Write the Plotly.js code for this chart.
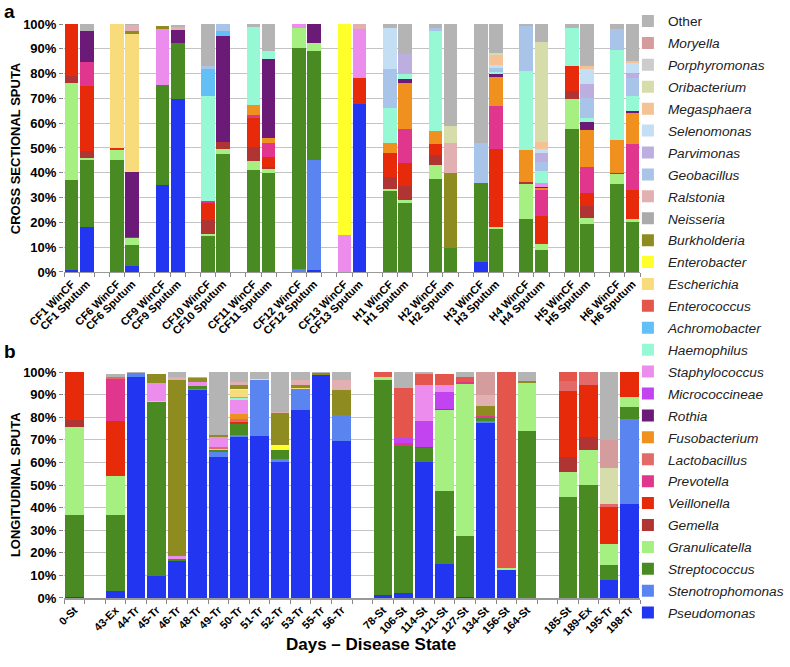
<!DOCTYPE html>
<html>
<head>
<meta charset="utf-8">
<script src="https://cdn.plot.ly/plotly-3.0.1.min.js"></script>
<style>
html,body{margin:0;padding:0;background:#fff;}
#chart{width:790px;height:667px;}
</style>
</head>
<body>
<div id="chart"></div>
<script>
// ---------- categories ("" marks an empty slot between groups) ----------
const categoriesA = ["CF1 WinCF","CF1 Sputum","","CF6 WinCF","CF6 Sputum","","CF9 WinCF","CF9 Sputum","",
  "CF10 WinCF","CF10 Sputum","","CF11 WinCF","CF11 Sputum","","CF12 WinCF","CF12 Sputum","",
  "CF13 WinCF","CF13 Sputum","","H1 WinCF","H1 Sputum","","H2 WinCF","H2 Sputum","",
  "H3 WinCF","H3 Sputum","","H4 WinCF","H4 Sputum","","H5 WinCF","H5 Sputum","","H6 WinCF","H6 Sputum"];
const categoriesB = ["0-St","","43-Ex","44-Tr","45-Tr","46-Tr","48-Tr","49-Tr","50-Tr","51-Tr","52-Tr","53-Tr","55-Tr","56-Tr","",
  "78-St","106-St","114-St","121-St","127-St","134-St","156-St","164-St","",
  "185-St","189-Ex","195-Tr","198-Tr"];

// ---------- taxa (stack order bottom -> top) ----------
const taxa = ["Pseudomonas","Stenotrophomonas","Streptococcus","Granulicatella","Gemella","Veillonella",
  "Prevotella","Lactobacillus","Fusobacterium","Rothia","Micrococcineae","Staphylococcus","Haemophilus",
  "Achromobacter","Enterococcus","Escherichia","Enterobacter","Burkholderia","Neisseria","Ralstonia",
  "Geobacillus","Parvimonas","Selenomonas","Megasphaera","Oribacterium","Porphyromonas","Moryella","Other"];
const taxaColors = ["#2236f2","#5a84f0","#4a8a22","#a6f082","#b03434","#e62a0a",
  "#e0368e","#e46a6a","#f0901e","#6c1a78","#c244f0","#ec8cec","#96f8d4",
  "#62c0f6","#e4564c","#f8dc7c","#ffff2a","#8e8c20","#aaaaaa","#e2b0b0",
  "#a8c4e8","#bcaede","#c4def4","#f4c294","#d6dcaa","#cccccc","#d49c9c","#b4b4b4"];

// ---------- panel a values (%), one per sample in categoriesA order ----------
const pseudomonasA     = [0.7,18,0,2.3,35,69.7,0,0,0,0,0,0.8,0,67.8,0,0,0,0,4,0,0,0,0,0,0,0];
const stenotrophomonasA= [0,0,0,0,0,0,0,0,0,0,1,44.4,0,0,0,0,0,0,0,0,0,0,0,0,0,0];
const streptococcusA   = [36.5,27,45,8.7,40.5,22.8,14.5,47.5,41.2,40.1,89.5,43.9,0,0,32.5,28,37.6,9.7,32,17.3,21.3,8.7,57.6,19.3,35.4,20.1];
const granulicatellaA  = [39,1,4,2.5,0,0,1,2,3.4,1.3,7.8,3.4,0,0,1,1,5.4,0,0,0.7,14.3,2.7,12.1,2.3,4.1,1.4];
const gemellaA         = [3,2.6,0,0.5,0,0,5.5,3.1,6,0.8,0,0,0,0,5,5.5,4,0,0,0,0.5,0,3.1,5.1,0.5,0];
const veillonellaA     = [20.8,26.4,1,0,0,0,6.8,0,11.4,4,0,0,0,10.6,9.4,9.4,4.7,0,0,31.7,0,11.3,10.3,5.3,0,11.7];
const prevotellaA      = [0,9.8,0,0,0,0,0.7,0,1.4,5.9,0,0,0,0,0,13.7,0,0,0,17.3,0,10.3,0,10.5,0,18.5];
const lactobacillusA   = [0,0,0,0,0,0,0,0,0,0,0,0,0,0,0,0,0,0,0,0,0,0,0,0,0,0];
const fusobacteriumA   = [0,0,0,0,0,0,0,0,4,1.8,0,0,0,0,4.3,18.8,5.3,0,0,11.8,13.1,0.7,0,14.8,13.3,12.3];
const rothiaA          = [0,12.4,0,26.3,0,5.2,0,42.6,0,31.8,0,7.5,0,0,0,1.4,0,0,0,1,0,0.5,0,3.1,0,1.1];
const micrococcineaeA  = [0,0,0,0,0,0,0,0,0,0,0,0,0,0,0,0,0,0,0,0,0,0,0,0,0,0];
const staphylococcusA  = [0,0,0,0,22.5,0,0,0,0,0,1.7,0,15,19.6,0,0,0,0,0,0,0,1.6,0,0,0,0];
const haemophilusA     = [0,0,0,0,0,0,42.5,0,31.3,3.5,0,0,0,0,14.1,2.2,40.2,0,0,1,31.8,5.1,15.2,1.6,36.2,6];
const achromobacterA   = [0,0,0,0,0,0,11,1.8,0,0,0,0,0,0,0,0,0,0,0,0,0,0,0,0,0,0];
const enterococcusA    = [0,0,0,0,0,0,0,0,0,0,0,0,0,0,0,0,0,0,0,0,0,0,0,0,0,0];
const escherichiaA     = [0,0,50,55.7,0,0,0,0,0,0,0,0,0,0,0,0,0,0,0,0,0,0,0,0,0,0];
const enterobacterA    = [0,0,0,0,0,0,0,0,0,0,0,0,85,0,0,0,0,0,0,0,0,0,0,0,0,0];
const burkholderiaA    = [0,0,0,1.2,1,0,0,0,0,0,0,0,0,0,0,0,0,30.4,0,0,0,0,0,0,0,0];
const neisseriaA       = [0,0,0,0,0,0,0,0,0,0,0,0,0,0,0,0,0,0,0,0,0,0,0,0,0,0];
const ralstoniaA       = [0,0,0,2.3,0,1,0,0,0,0,0,0,0,2,0,0,0,11.9,0,0,0,0,0,0,0,0];
const geobacillusA     = [0,0,0,0,0,0,1,3,0,0,0,0,0,0,15.7,0,1,0,16,1.6,18,3.5,0,8,8.4,7];
const parvimonasA      = [0,0,0,0,0,0,0,0,0,0,0,0,0,0,0,8,0,0,0,0,0,3.5,0,6,0,2];
const selenomonasA     = [0,0,0,0,0,0,0,0,0,0,0,0,0,0,16.5,0,0,0,0,1,0,1.5,0,6,0,4];
const megasphaeraA     = [0,0,0,0,0,0,0,0,0,0,0,0,0,0,0,0,0,0,0,4,0,3,0,1,0,0.8];
const oribacteriumA    = [0,0,0,0,0,0,0,0,0,0,0,0,0,0,0,0,0,7,0,1.1,0,40.5,0,0,0,0];
const porphyromonasA   = [0,0,0,0,0,0,0,0,0,0,0,0,0,0,0,0,0,0,0,0,0,0,0,0,0,0];
const moryellaA        = [0,0,0,0,0,0,0,0,0,0,0,0,0,0,0,0,0,0,0,0,0,0,0,0,0,0];
const otherA           = [0,2.8,0,0.5,0,0.8,17,0,1.3,10.7,0,0,0,0,1.5,12,1.8,41,48,12.5,1,7,1.7,17,2.1,15.1];

// ---------- panel b values (%), one per sample in categoriesB order ----------
const pseudomonasB     = [0.5,2.9,97.6,9.9,16.5,91.9,62.4,71.1,71.5,60,83,98.5,69.6,1.5,2.2,60.2,15,0.5,77.4,12.5,0,0,0,8,41.6];
const stenotrophomonasB= [0,0,1.9,0,0,0.7,2.1,0.9,24.8,1.5,9.6,0,11.5,0,0,0,0,0,0.8,0,0,0,0,0,37.6];
const streptococcusB   = [36.1,33.7,0,76.8,0.6,1.1,1,5.1,0,4.1,0,0,0,94.8,64.9,6.2,32.2,26.8,1.4,0,73.7,44.7,50.1,6.6,5.2];
const granulicatellaB  = [39.1,17.2,0,0.3,0,0,0.5,0,0,0,0,0,0,1.5,0,0,35.8,67.5,0,0.7,21.4,10.9,15.5,9.3,4.7];
const gemellaB         = [3.2,0,0,0,0,0,0,0,0,0,0,0,0,0,0,0,0,0,0,0,0,6.8,5.6,0,0];
const veillonellaB     = [21.1,24.4,0,0,0,0,0,1,0,0,0,0,0,0,0,0.6,0.5,0,0,0,0,29,23.2,16.5,10.9];
const prevotellaB      = [0,18.7,0,0,0,0,0,0,0,0,0,0,0,0,1.5,0,0,0.7,1.1,0,0,0,0,0,0];
const lactobacillusB   = [0,1.1,0,0,0,0,0.6,1,0,0,0,0,0,0,0,0,0,0,0,0,0,4.5,5.6,1.1,0];
const fusobacteriumB   = [0,0,0,0,0,0,0,2.2,0,0,0,0.3,0,0,0,0,0,0,0,0,0,0,0,0,0];
const rothiaB          = [0,0,0,0,0,0,0,0,0,0,0,0,0,0,0,0,0,0,0,0,0,0,0,0,0];
const micrococcineaeB  = [0,0,0,0,0,0,0,0,0,0,0,0,0,0,2.2,11.2,7.5,0,0,0,0,0,0,0,0];
const staphylococcusB  = [0,0,0,8,1.4,1.8,4.7,6.5,0,0,0,0,0,0,0,16.2,3.4,0,0,0,0,0,0,0,0];
const haemophilusB     = [0,0,0,0,0,0,0,0.8,0,0,0,0,0,0,0,0,0,0,0,0,0,0,0,0,0];
const achromobacterB   = [0,0,0,0,0,0,0,0.5,0,0,0,0,0,0,0,0,0,0,0,0,0,0,0,0,0];
const enterococcusB    = [0,0,0,0,0,0,0,0,0,0,0,0,0,2.2,22.1,4.9,4.9,2.3,0,86.8,0,4.1,0,0,0];
const escherichiaB     = [0,0,0,0,0,0,0,3,0.5,0,0.5,0,0,0,0,0,0,0,0,0,0,0,0,0,0];
const enterobacterB    = [0,0,0,0,0,0,0,0.5,0,2.2,0,0,0,0,0,0,0,0,0,0,0,0,0,0,0];
const burkholderiaB    = [0,0,0,4,78.1,1.8,0.7,1.6,0,14.1,1,0.7,10.8,0,0,0,0,0,4.3,0,0.8,0,0,0,0];
const neisseriaB       = [0,0,0,0,0,0,0,0,0,0,0,0,0,0,0,0,0,0,0,0,0,0,0,0,0];
const ralstoniaB       = [0,0,0,0,1,0,0,1.2,0,0.6,2.2,0,4.4,0,0,0,0,0,5,0,0,0,0,0,0];
const geobacillusB     = [0,0,0,0,0,0,0,0,0,0,0,0,0,0,0,0,0,0,0,0,0,0,0,0,0];
const parvimonasB      = [0,0,0,0,0,0,0,0,0,0,0,0,0,0,0,0,0,0,0,0,0,0,0,0,0];
const selenomonasB     = [0,0,0,0,0,0,0,0,0,0,0,0,0,0,0,0,0,0,0,0,0,0,0,0,0];
const megasphaeraB     = [0,0,0,0,0,0,0,0,0,0,0,0,0,0,0,0,0,0,0,0,0,0,0,0,0];
const oribacteriumB    = [0,0,0,0,0,0,0,0,0,0,0,0,0,0,0,0,0,0,0,0,0,0,0,15.9,0];
const porphyromonasB   = [0,0,0,0,0,0,0,0,0,0,0,0,0,0,0,0,0,0,0,0,0,0,0,0,0];
const moryellaB        = [0,0,0,0,0,0,0,0,0,0,0,0,0,0,0,0,0,0,10,0,0,0,0,12.5,0];
const otherB           = [0,1.3,0.5,0,2.4,0.7,28,4.6,3.2,17.5,3.7,0.5,3.7,0,7.1,0.7,0,2.2,0,0,4.1,0,0,30.1,0];

const seriesA = [pseudomonasA,stenotrophomonasA,streptococcusA,granulicatellaA,gemellaA,veillonellaA,
  prevotellaA,lactobacillusA,fusobacteriumA,rothiaA,micrococcineaeA,staphylococcusA,haemophilusA,
  achromobacterA,enterococcusA,escherichiaA,enterobacterA,burkholderiaA,neisseriaA,ralstoniaA,
  geobacillusA,parvimonasA,selenomonasA,megasphaeraA,oribacteriumA,porphyromonasA,moryellaA,otherA];
const seriesB = [pseudomonasB,stenotrophomonasB,streptococcusB,granulicatellaB,gemellaB,veillonellaB,
  prevotellaB,lactobacillusB,fusobacteriumB,rothiaB,micrococcineaeB,staphylococcusB,haemophilusB,
  achromobacterB,enterococcusB,escherichiaB,enterobacterB,burkholderiaB,neisseriaB,ralstoniaB,
  geobacillusB,parvimonasB,selenomonasB,megasphaeraB,oribacteriumB,porphyromonasB,moryellaB,otherB];

// ---------- build ----------
function axisOrder(cats){
  let g = 0;
  return cats.map(c => c === "" ? "\u200b".repeat(++g) : c);
}
const orderA = axisOrder(categoriesA);
const orderB = axisOrder(categoriesB);
const samplesA = categoriesA.filter(c => c !== "");
const samplesB = categoriesB.filter(c => c !== "");

const FONT = "Arial, 'Liberation Sans', sans-serif";
const traces = [];
taxa.forEach((t, i) => {
  const nm = t === "Other" ? t : "<i>" + t + "</i>";
  traces.push({type:"bar", x:samplesA, y:seriesA[i], name:nm, xaxis:"x", yaxis:"y", legendgroup:t,
    legendrank: taxa.length - i,
    marker:{color:taxaColors[i], line:{width:0}}, showlegend:true});
});
taxa.forEach((t, i) => {
  traces.push({type:"bar", x:samplesB, y:seriesB[i], name:t, xaxis:"x2", yaxis:"y2", legendgroup:t,
    legendrank: taxa.length - i,
    marker:{color:taxaColors[i], line:{width:0}}, showlegend:false});
});

const tickFont = {family:FONT, size:11, color:"#000", weight:"bold"};
const yTickFont = {family:FONT, size:13, color:"#000", weight:"bold"};
function xAxis(order, anchor){
  return {anchor:anchor, type:"category", categoryorder:"array", categoryarray:order,
    range:[-0.5, order.length-0.5], tickson:"boundaries", ticks:"outside", ticklen:4,
    tickcolor:"#888", tickwidth:1, tickangle:-45, tickfont:tickFont, showline:true,
    linecolor:"#999", linewidth:1.5, showgrid:false, zeroline:false, automargin:false};
}
function yAxis(domain, anchor){
  return {domain:domain, anchor:anchor, range:[0,100], dtick:10, ticksuffix:"%",
    tickfont:yTickFont, ticks:"outside", ticklen:4, tickcolor:"#888", gridcolor:"#c4c4c4",
    gridwidth:1, showline:false, zeroline:false, automargin:false};
}

const layout = {
  width:790, height:667, paper_bgcolor:"#fff", plot_bgcolor:"#fff",
  margin:{l:64, r:150, t:24, b:69, autoexpand:false},
  barmode:"stack", bargap:0.1,
  font:{family:FONT, color:"#000"},
  xaxis: xAxis(orderA, "y"),
  yaxis: yAxis([0.568, 1], "x"),
  xaxis2: xAxis(orderB, "y2"),
  yaxis2: yAxis([0, 0.3937], "x2"),
  legend:{x:0.979, xanchor:"left", y:1.032, yanchor:"top", traceorder:"grouped",
    tracegroupgap:1.1, maxheight:700,
    font:{family:FONT, size:13.7, color:"#222"}, bgcolor:"rgba(0,0,0,0)", itemclick:false},
  annotations:[
    {text:"<b>a</b>", xref:"paper", yref:"paper", x:-0.108, y:1.021, xanchor:"left", yanchor:"middle",
     showarrow:false, font:{family:FONT, size:19}},
    {text:"<b>b</b>", xref:"paper", yref:"paper", x:-0.108, y:0.4286, xanchor:"left", yanchor:"middle",
     showarrow:false, font:{family:FONT, size:19}},
    {text:"<b>CROSS SECTIONAL SPUTA</b>", xref:"paper", yref:"paper", x:-0.083, y:0.784,
     xanchor:"center", yanchor:"middle", textangle:-90, showarrow:false, font:{family:FONT, size:13}},
    {text:"<b>LONGITUDINAL SPUTA</b>", xref:"paper", yref:"paper", x:-0.083, y:0.197,
     xanchor:"center", yanchor:"middle", textangle:-90, showarrow:false, font:{family:FONT, size:13}},
    {text:"<b>Days – Disease State</b>", xref:"paper", yref:"paper", x:0.533, y:-0.081,
     xanchor:"center", yanchor:"middle", showarrow:false, font:{family:FONT, size:17}}
  ]
};

Plotly.newPlot("chart", traces, layout, {displayModeBar:false, staticPlot:true});
</script>
</body>
</html>
